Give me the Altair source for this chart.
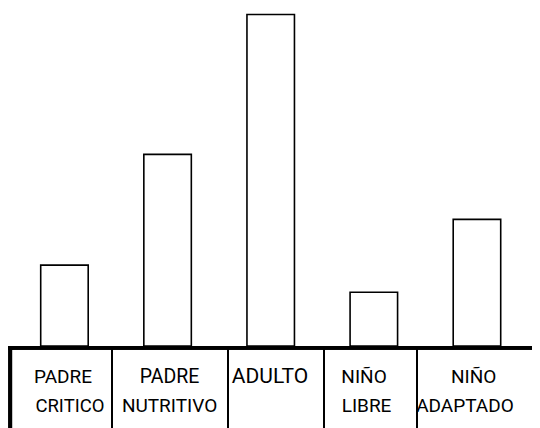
import altair as alt
import pandas as pd

# ---- data ----
categories = ["PADRE CRITICO", "PADRE NUTRITIVO", "ADULTO", "NIÑO LIBRE", "NIÑO ADAPTADO"]
values = [24.4, 57.8, 100.0, 16.2, 38.2]
label_line1 = ["PADRE", "PADRE", "ADULTO", "NIÑO", "NIÑO"]
label_line2 = ["CRITICO", "NUTRITIVO", "", "LIBRE", "ADAPTADO"]

df = pd.DataFrame({"cat": categories, "value": values,
                   "l1": label_line1, "l2": label_line2})

# ---- layout / style ----
W, H = 524, 420
FONT = "Roboto"
row1_fs = [19, 19.5, 21, 19, 19]
row2_fs = [18.5, 19, 19, 19, 19]
row1_dx = [-1.5, 2, -0.7, -9.8, -3.3]
row2_dx = [5.5, 2, 0, -7.3, -12]
divider_offsets = [23.8, 36.7, 29.5, 19.4]

xscale = alt.Scale(domain=categories, paddingInner=0.5394, paddingOuter=0.3103, align=0.511)
yscale = alt.Scale(domain=[-24.74, 101.96], nice=False, zero=False)

base = alt.Chart(df)

bars = base.mark_bar(fill="white", stroke="black", strokeWidth=1.6).encode(
    x=alt.X("cat:N", scale=xscale, sort=categories, axis=None),
    y=alt.Y("value:Q", scale=yscale, axis=None),
    y2=alt.datum(0),
)

baseline = base.mark_rule(color="black", strokeWidth=3.5, yOffset=1.75).encode(
    y=alt.datum(0),
    x=alt.value(0),
    x2=alt.value(W),
)

left_line = base.mark_rule(color="black", strokeWidth=3.5).encode(
    x=alt.value(2.3),
    y=alt.datum(0),
    y2=alt.value(H),
)

layers = [bars, baseline, left_line]

for i, off in enumerate(divider_offsets):
    layers.append(
        base.mark_rule(color="black", strokeWidth=1.5, xOffset=off).encode(
            x=alt.X(datum=categories[i], bandPosition=1),
            y=alt.datum(0),
            y2=alt.value(H),
        )
    )

for i, cat in enumerate(categories):
    sub = alt.Chart(df).transform_filter(alt.datum.cat == cat)
    layers.append(
        sub.mark_text(font=FONT, fontSize=row1_fs[i], color="black", baseline="alphabetic",
                      align="center", dx=row1_dx[i]).encode(
            x=alt.X("cat:N"),
            y=alt.value(375),
            text="l1:N",
        )
    )
    if label_line2[i]:
        layers.append(
            sub.mark_text(font=FONT, fontSize=row2_fs[i], color="black", baseline="alphabetic",
                          align="center", dx=row2_dx[i]).encode(
                x=alt.X("cat:N"),
                y=alt.value(404),
                text="l2:N",
            )
        )

chart = alt.layer(*layers).properties(
    width=W, height=H,
    autosize=alt.AutoSizeParams(type="none"),
    padding=0,
    background="white",
).configure_view(stroke=None)

chart.save("out.html", embed_options={"renderer": "svg", "actions": False})
